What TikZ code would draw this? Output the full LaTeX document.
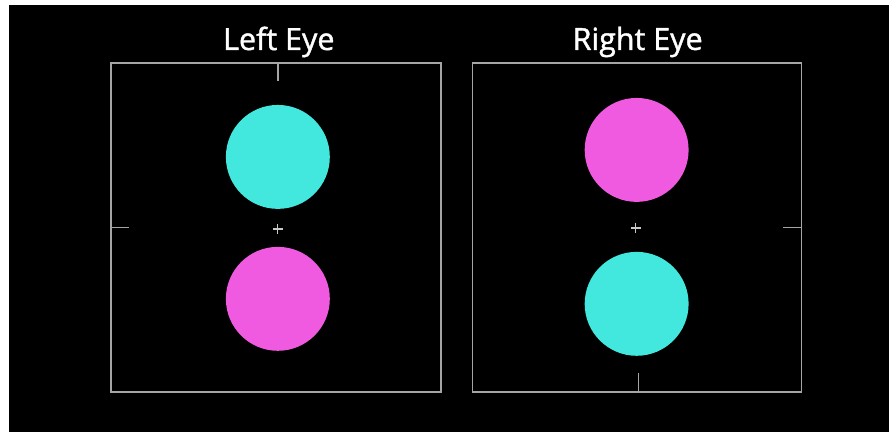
\documentclass[tikz,border=0pt]{standalone}
\usepackage{fontspec}
\setmainfont{Open Sans}
\newfontfamily\titlefont[FakeBold=1.3]{Open Sans}
\usetikzlibrary{positioning,calc}
\definecolor{frameline}{RGB}{165,165,165}
\definecolor{teal}{RGB}{66,232,222}
\definecolor{pink}{RGB}{240,90,224}
\tikzset{
  frame/.style={draw=frameline, line width=1.5pt, minimum width=330pt, minimum height=329pt, inner sep=0pt},
  tickmark/.style={draw=frameline, line width=1.5pt},
  dot/.style={circle, minimum size=104pt, inner sep=0pt},
  title/.style={text=white, font=\titlefont\fontsize{30.5}{36}\selectfont, inner sep=0pt},
  cross/.style={draw=frameline!60!white, line width=1.3pt},
}
\begin{document}
\begin{tikzpicture}[x=1pt, y=-1pt]
  % page: thin white margin on the top and left, black everywhere else
  \fill[white] (0,0) rectangle (889,432);
  \fill[black] (9,5) rectangle (889.5,432.5);
  \useasboundingbox (0,0) rectangle (889,432);
  % the two views
  \node[frame] (lframe) at (276,227.5) {};
  \node[frame, minimum width=329pt] (rframe) at (637.5,227.5) {};
  \node[title] (ltitle) at (279,42) {Left Eye};
  \node[title] (rtitle) at (638,42) {Right Eye};
  \node[dot, fill=teal] (ltop) at (278,157) {};
  \node[dot, fill=pink] (lbot) at (278,299) {};
  \node[dot, fill=pink] (rtop) at (637,150) {};
  \node[dot, fill=teal] (rbot) at (637,304) {};
  \coordinate (lfix) at (278,229);
  \coordinate (rfix) at (636,228);
  \foreach \c in {lfix,rfix}
    \draw[cross] ($(\c)+(-5,0)$) -- ($(\c)+(5,0)$) ($(\c)+(0,-5)$) -- ($(\c)+(0,5)$);
  % ticks on the frames
  \draw[tickmark] (278,63) -- (278,81);
  \draw[tickmark] (lframe.west) -- ++(19,0);
  \draw[tickmark] (rframe.east) -- ++(-19,0);
  \draw[tickmark] (639,392) -- (639,373);
\end{tikzpicture}
\end{document}
